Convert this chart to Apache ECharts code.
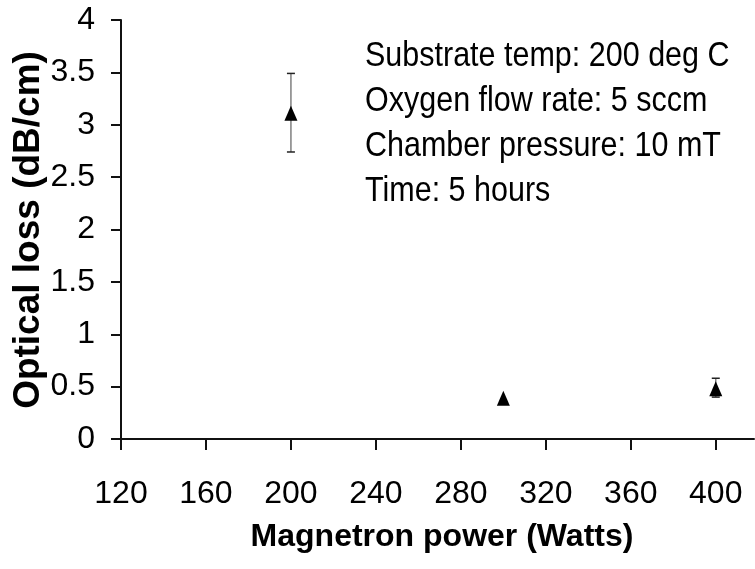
<!DOCTYPE html>
<html>
<head>
<meta charset="utf-8">
<script src="https://cdn.jsdelivr.net/npm/echarts@6/dist/echarts.min.js"></script>
<style>
  html, body { margin: 0; padding: 0; background: #fff; }
  #chart { width: 755px; height: 569px; }
</style>
</head>
<body>
<div id="chart"></div>
<script>
// Magnetron power (W) and measured optical loss (dB/cm) with error limits
const power = [200, 300, 400];
const loss = [3.11, 0.39, 0.48];
const lossLow = [2.74, 0.39, 0.40];
const lossHigh = [3.49, 0.39, 0.58];

// Deposition conditions shown in the note
const conditions = [
  'Substrate temp: 200 deg C',
  'Oxygen flow rate: 5 sccm',
  'Chamber pressure: 10 mT',
  'Time: 5 hours'
];

const xTitle = 'Magnetron power (Watts)';
const yTitle = 'Optical loss (dB/cm)';

const FONT = '"Liberation Sans", Arial, sans-serif';

const points = power.map((p, i) => [p, loss[i]]);
const bars = power.map((p, i) => [p, lossLow[i], lossHigh[i]]);

const chart = echarts.init(document.getElementById('chart'), null, { renderer: 'canvas' });

const noteLines = conditions.map((t, i) => ({
  type: 'text',
  x: 365,
  y: 56 + i * 45,
  scaleY: 1.16,
  style: {
    text: t,
    x: 0,
    y: 0,
    fill: '#000',
    font: '30.5px ' + FONT,
    align: 'left',
    verticalAlign: 'middle'
  }
}));

chart.setOption({
  animation: false,
  backgroundColor: '#fff',
  grid: { left: 121, right: 1, top: 20, bottom: 130, containLabel: false },
  xAxis: {
    type: 'value',
    min: 120,
    max: 418,
    interval: 40,
    axisLine: { show: true, onZero: false, lineStyle: { color: '#111', width: 2 } },
    axisTick: { show: true, inside: false, length: 11, lineStyle: { color: '#111', width: 2 } },
    axisLabel: {
      margin: 39,
      fontSize: 32,
      fontFamily: FONT,
      color: '#000',
      showMaxLabel: false,
      formatter: v => ((v - 120) % 40 === 0 ? String(v) : '')
    },
    splitLine: { show: false }
  },
  yAxis: {
    type: 'value',
    min: 0,
    max: 4,
    interval: 0.5,
    axisLine: { show: true, lineStyle: { color: '#111', width: 2 } },
    axisTick: { show: true, inside: false, length: 10, lineStyle: { color: '#111', width: 2 } },
    axisLabel: {
      margin: 26,
      fontSize: 32,
      fontFamily: FONT,
      color: '#000'
    },
    splitLine: { show: false }
  },
  graphic: [
    {
      type: 'text',
      x: 442,
      y: 537,
      style: {
        text: xTitle,
        x: 0, y: 0,
        fill: '#000',
        font: 'bold 32px ' + FONT,
        align: 'center',
        verticalAlign: 'middle'
      }
    },
    {
      type: 'text',
      x: 29,
      y: 230,
      rotation: Math.PI / 2,
      style: {
        text: yTitle,
        x: 0, y: 0,
        fill: '#000',
        font: 'bold 37px ' + FONT,
        align: 'center',
        verticalAlign: 'middle'
      }
    }
  ].concat(noteLines),
  series: [
    {
      type: 'custom',
      name: 'error',
      data: bars,
      z: 2,
      renderItem: function (params, api) {
        const x = api.value(0);
        const lo = api.value(1);
        const hi = api.value(2);
        if (hi === lo) return null;
        const pLo = api.coord([x, lo]);
        const pHi = api.coord([x, hi]);
        const cap = 4;
        return {
          type: 'group',
          children: [
            {
              type: 'line',
              shape: { x1: pLo[0], y1: pLo[1], x2: pHi[0], y2: pHi[1] },
              style: { stroke: '#7f7f7f', lineWidth: 1.5 }
            },
            {
              type: 'line',
              shape: { x1: pHi[0] - cap, y1: pHi[1], x2: pHi[0] + cap, y2: pHi[1] },
              style: { stroke: '#222', lineWidth: 1.5 }
            },
            {
              type: 'line',
              shape: { x1: pLo[0] - cap, y1: pLo[1], x2: pLo[0] + cap, y2: pLo[1] },
              style: { stroke: '#222', lineWidth: 1.5 }
            }
          ]
        };
      }
    },
    {
      type: 'scatter',
      name: 'loss',
      data: points,
      symbol: 'triangle',
      symbolSize: [13, 15],
      itemStyle: { color: '#000', opacity: 1 },
      z: 3
    }
  ]
});
</script>
</body>
</html>
